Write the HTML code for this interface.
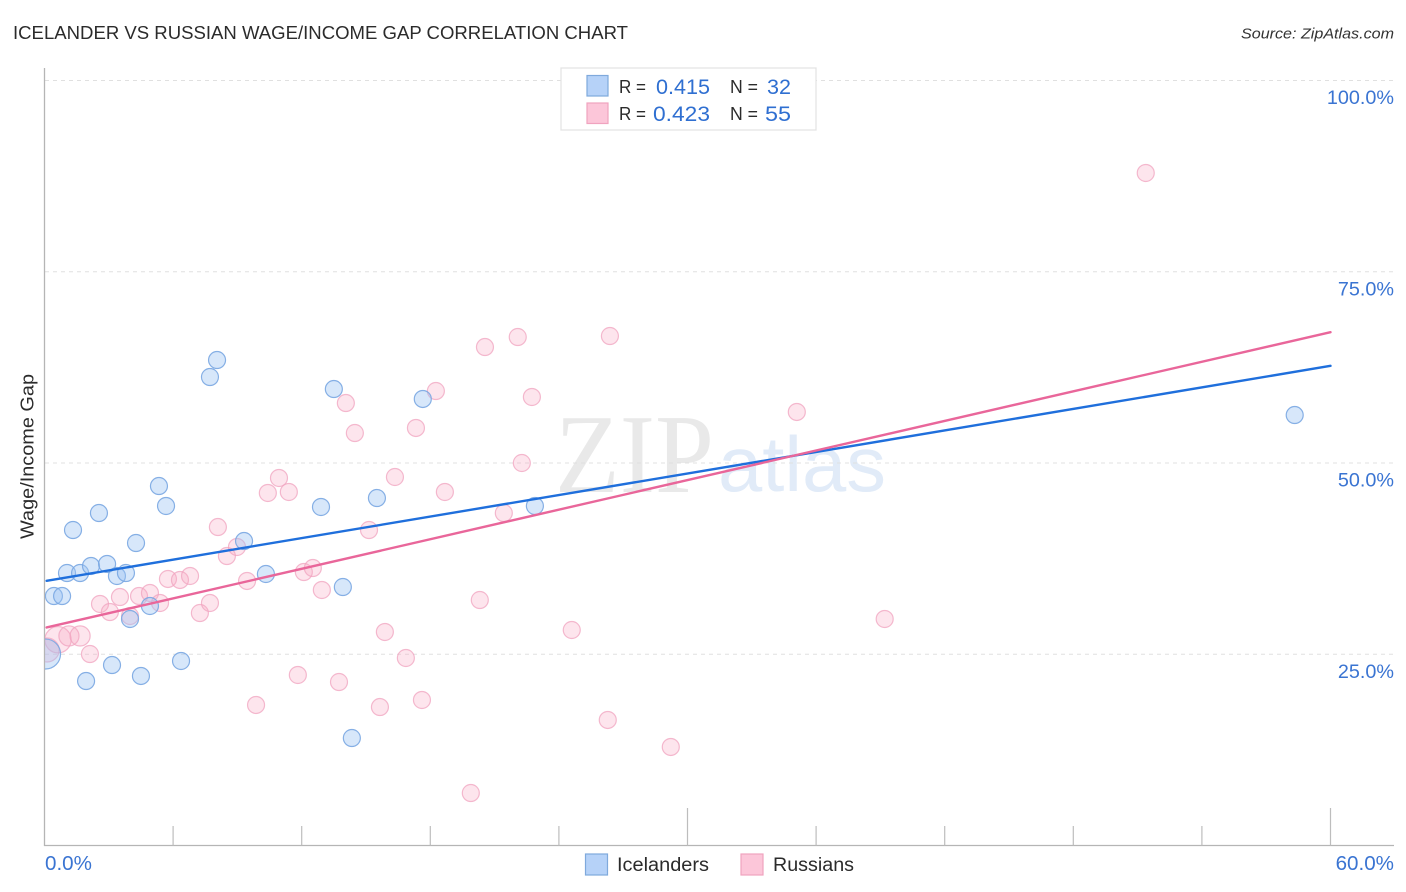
<!DOCTYPE html>
<html lang="en">
<head>
<meta charset="utf-8">
<title>Icelander vs Russian Wage/Income Gap Correlation Chart</title>
<style>
html,body{margin:0;padding:0;background:#fff;width:1406px;height:892px;overflow:hidden}
svg{display:block;font-family:"Liberation Sans",sans-serif}
</style>
</head>
<body>
<svg id="chart" xmlns="http://www.w3.org/2000/svg" width="1406" height="892" viewBox="0 0 1406 892">
  <defs>
    <clipPath id="plot-clip"><rect x="45" y="68" width="1349" height="777"/></clipPath>
  </defs>
  <text x="13" y="39" font-size="18.5" fill="#2b2b2b" textLength="615" lengthAdjust="spacingAndGlyphs">ICELANDER VS RUSSIAN WAGE/INCOME GAP CORRELATION CHART</text>
  <text x="1241" y="38.5" font-size="15" font-style="italic" fill="#333" textLength="153" lengthAdjust="spacingAndGlyphs">Source: ZipAtlas.com</text>

  <g id="watermark">
    <text x="555" y="492" font-family="'Liberation Serif',serif" font-size="112" fill="#e9e9e9" textLength="159" lengthAdjust="spacingAndGlyphs">ZIP</text>
    <text x="718" y="491" font-family="'Liberation Sans',sans-serif" font-size="78" fill="#e1ebf8" textLength="168" lengthAdjust="spacingAndGlyphs">atlas</text>
  </g>

  <g id="grid"></g>
  <g id="axes"></g>
  <g id="labels"></g>
  <g id="points" clip-path="url(#plot-clip)"></g>
  <g id="trends"></g>

  <text transform="translate(33.5,456.5) rotate(-90)" font-size="18" fill="#2b2b2b" text-anchor="middle" textLength="165" lengthAdjust="spacingAndGlyphs">Wage/Income Gap</text>

  <g>
    <rect x="561" y="68" width="255" height="62" fill="#fff" stroke="#e2e2e2" stroke-width="1.2"/>
    <rect x="587" y="75.5" width="21" height="20.5" fill="#b6d2f8" stroke="#7fa9dc" stroke-width="1.2"/>
    <rect x="587" y="103" width="21" height="20.5" fill="#fcc6d9" stroke="#f0a3bf" stroke-width="1.2"/>
    <text x="619" y="93" font-size="18" fill="#2b2b2b" textLength="27" lengthAdjust="spacingAndGlyphs">R =</text>
    <text x="656" y="94" font-size="21" fill="#2f6fd1" textLength="54" lengthAdjust="spacingAndGlyphs">0.415</text>
    <text x="730" y="93" font-size="18" fill="#2b2b2b" textLength="28" lengthAdjust="spacingAndGlyphs">N =</text>
    <text x="767" y="94" font-size="21" fill="#2f6fd1" textLength="24" lengthAdjust="spacingAndGlyphs">32</text>
    <text x="619" y="120" font-size="18" fill="#2b2b2b" textLength="27" lengthAdjust="spacingAndGlyphs">R =</text>
    <text x="653" y="121" font-size="21" fill="#2f6fd1" textLength="57" lengthAdjust="spacingAndGlyphs">0.423</text>
    <text x="730" y="120" font-size="18" fill="#2b2b2b" textLength="28" lengthAdjust="spacingAndGlyphs">N =</text>
    <text x="765" y="121" font-size="21" fill="#2f6fd1" textLength="26" lengthAdjust="spacingAndGlyphs">55</text>
  </g>

  <g>
    <rect x="585.5" y="854" width="22" height="21" fill="#b6d2f8" stroke="#7fa9dc" stroke-width="1.2"/>
    <text x="617" y="871" font-size="19" fill="#2b2b2b" textLength="92" lengthAdjust="spacingAndGlyphs">Icelanders</text>
    <rect x="741" y="854" width="22" height="21" fill="#fcc6d9" stroke="#f0a3bf" stroke-width="1.2"/>
    <text x="773" y="871" font-size="19" fill="#2b2b2b" textLength="81" lengthAdjust="spacingAndGlyphs">Russians</text>
  </g>
</svg>

<script>
const xTicks = [0, 6, 12, 18, 24, 30, 36, 42, 48, 54, 60];
const xMajorTicks = [30, 60];
const xTickLabels = ["0.0%", "60.0%"];
const yTicks = [25, 50, 75, 100];
const yTickLabels = ["25.0%", "50.0%", "75.0%", "100.0%"];

const icelanderX = [0.05,0.44,0.82,1.05,1.33,1.66,1.94,2.17,2.54,2.92,3.15,3.38,3.80,3.99,4.27,4.50,4.92,5.34,5.67,6.37,7.72,8.05,9.31,10.33,12.90,13.50,13.92,14.34,15.51,17.65,22.88,58.33];
const icelanderY = [25.03,32.61,32.61,35.62,41.24,35.62,21.50,36.54,43.46,36.80,23.59,35.23,35.62,29.61,39.54,22.16,31.31,46.99,44.38,24.12,61.24,63.46,39.80,35.49,44.25,59.67,33.79,14.05,45.42,58.37,44.38,56.27];
const icelanderWeight = [3.1,1,1,1,1,1,1,1,1,1,1,1,1,1,1,1,1,1,1,1,1,1,1,1,1,1,1,1,1,1,1,1];

const russianX = [0.12,0.63,1.14,1.66,2.12,2.59,3.05,3.52,3.99,4.41,4.92,5.39,5.76,6.32,6.79,7.25,7.72,8.09,8.51,8.98,9.45,9.87,10.42,10.94,11.40,11.82,12.10,12.52,12.94,13.74,14.06,14.48,15.14,15.65,15.88,16.35,16.86,17.33,17.61,18.26,18.68,19.89,20.31,20.55,21.43,22.08,22.27,22.74,24.60,26.28,26.38,29.22,35.10,39.20,51.38];
const russianY = [25.56,26.90,27.39,27.39,25.03,31.57,30.52,32.48,30.00,32.61,33.01,31.70,34.84,34.71,35.23,30.39,31.70,41.63,37.84,39.02,34.58,18.37,46.08,48.04,46.21,22.29,35.75,36.27,33.40,21.37,57.84,53.92,41.24,18.10,27.91,48.17,24.51,54.58,19.02,59.41,46.21,6.86,32.09,65.16,43.46,66.47,50.00,58.63,28.17,16.41,66.60,12.88,56.67,29.61,87.91];
const russianWeight = [2,2.4,1.4,1.4,1,1,1,1,1,1,1,1,1,1,1,1,1,1,1,1,1,1,1,1,1,1,1,1,1,1,1,1,1,1,1,1,1,1,1,1,1,1,1,1,1,1,1,1,1,1,1,1,1,1,1];

const trendX = [0.1, 60];
const icelanderTrend = [34.6, 62.7];
const russianTrend = [28.5, 67.1];

const NS = "http://www.w3.org/2000/svg";
function sx(v){ return 44.5 + v * (1286 / 60); }
function sy(v){ return 845.5 - v * 7.65; }
function sr(w){ return 8.5 * Math.sqrt(w); }

function make(tag, attrs, parent){
  const el = document.createElementNS(NS, tag);
  for (const k in attrs) el.setAttribute(k, attrs[k]);
  parent.appendChild(el);
  return el;
}

const gridG = document.getElementById("grid");
const axesG = document.getElementById("axes");
const labelsG = document.getElementById("labels");
const pointsG = document.getElementById("points");
const trendsG = document.getElementById("trends");

yTicks.forEach(function(t, i){
  const line = make("line", {x1:45, x2:1393, y1:sy(t), y2:sy(t), stroke:"#e0e0e0", "stroke-width":1, "stroke-dasharray":"4 4"}, gridG);
  
  
  const label = make("text", {x:1394, y:sy(t) + 23.5, "font-size":19.8, fill:"#3a74d2", "text-anchor":"end"}, labelsG);
  label.textContent = yTickLabels[i];
  
  
});

const yAxis = make("line", {x1:44.5, x2:44.5, y1:68, y2:846, stroke:"#b5b5b5", "stroke-width":1.3}, axesG);


const xAxis = make("line", {x1:44, x2:1394, y1:845.5, y2:845.5, stroke:"#b5b5b5", "stroke-width":1.3}, axesG);



xTicks.forEach(function(t){
  if (t === 0) return;
  const top = xMajorTicks.indexOf(t) >= 0 ? 808 : 826;
  const tick = make("line", {x1:sx(t), x2:sx(t), y1:top, y2:845.5, stroke:"#bdbdbd", "stroke-width":1.2}, axesG);
  
  
});

const xLabelFirst = make("text", {x:45, y:870, "font-size":20.6, fill:"#3a74d2"}, labelsG);
xLabelFirst.textContent = xTickLabels[0];


const xLabelLast = make("text", {x:1394, y:870, "font-size":20.6, fill:"#3a74d2", "text-anchor":"end"}, labelsG);
xLabelLast.textContent = xTickLabels[1];



russianX.forEach(function(v, i){
  const c = make("circle", {cx:sx(v), cy:sy(russianY[i]), r:sr(russianWeight[i]), fill:"#f9a8c4", "fill-opacity":0.3, stroke:"#f0a3bf", "stroke-opacity":0.75, "stroke-width":1.2}, pointsG);
  
  
});

icelanderX.forEach(function(v, i){
  const c = make("circle", {cx:sx(v), cy:sy(icelanderY[i]), r:sr(icelanderWeight[i]), fill:"#9cc2f3", "fill-opacity":0.4, stroke:"#7aa7e2", "stroke-opacity":0.9, "stroke-width":1.2}, pointsG);
  
  
});

const blueTrend = make("line", {x1:sx(trendX[0]), y1:sy(icelanderTrend[0]), x2:sx(trendX[1]), y2:sy(icelanderTrend[1]), stroke:"#1f6fdc", "stroke-width":2.4, "stroke-linecap":"round"}, trendsG);


const pinkTrend = make("line", {x1:sx(trendX[0]), y1:sy(russianTrend[0]), x2:sx(trendX[1]), y2:sy(russianTrend[1]), stroke:"#e9669a", "stroke-width":2.4, "stroke-linecap":"round"}, trendsG);


</script>
</body>
</html>
